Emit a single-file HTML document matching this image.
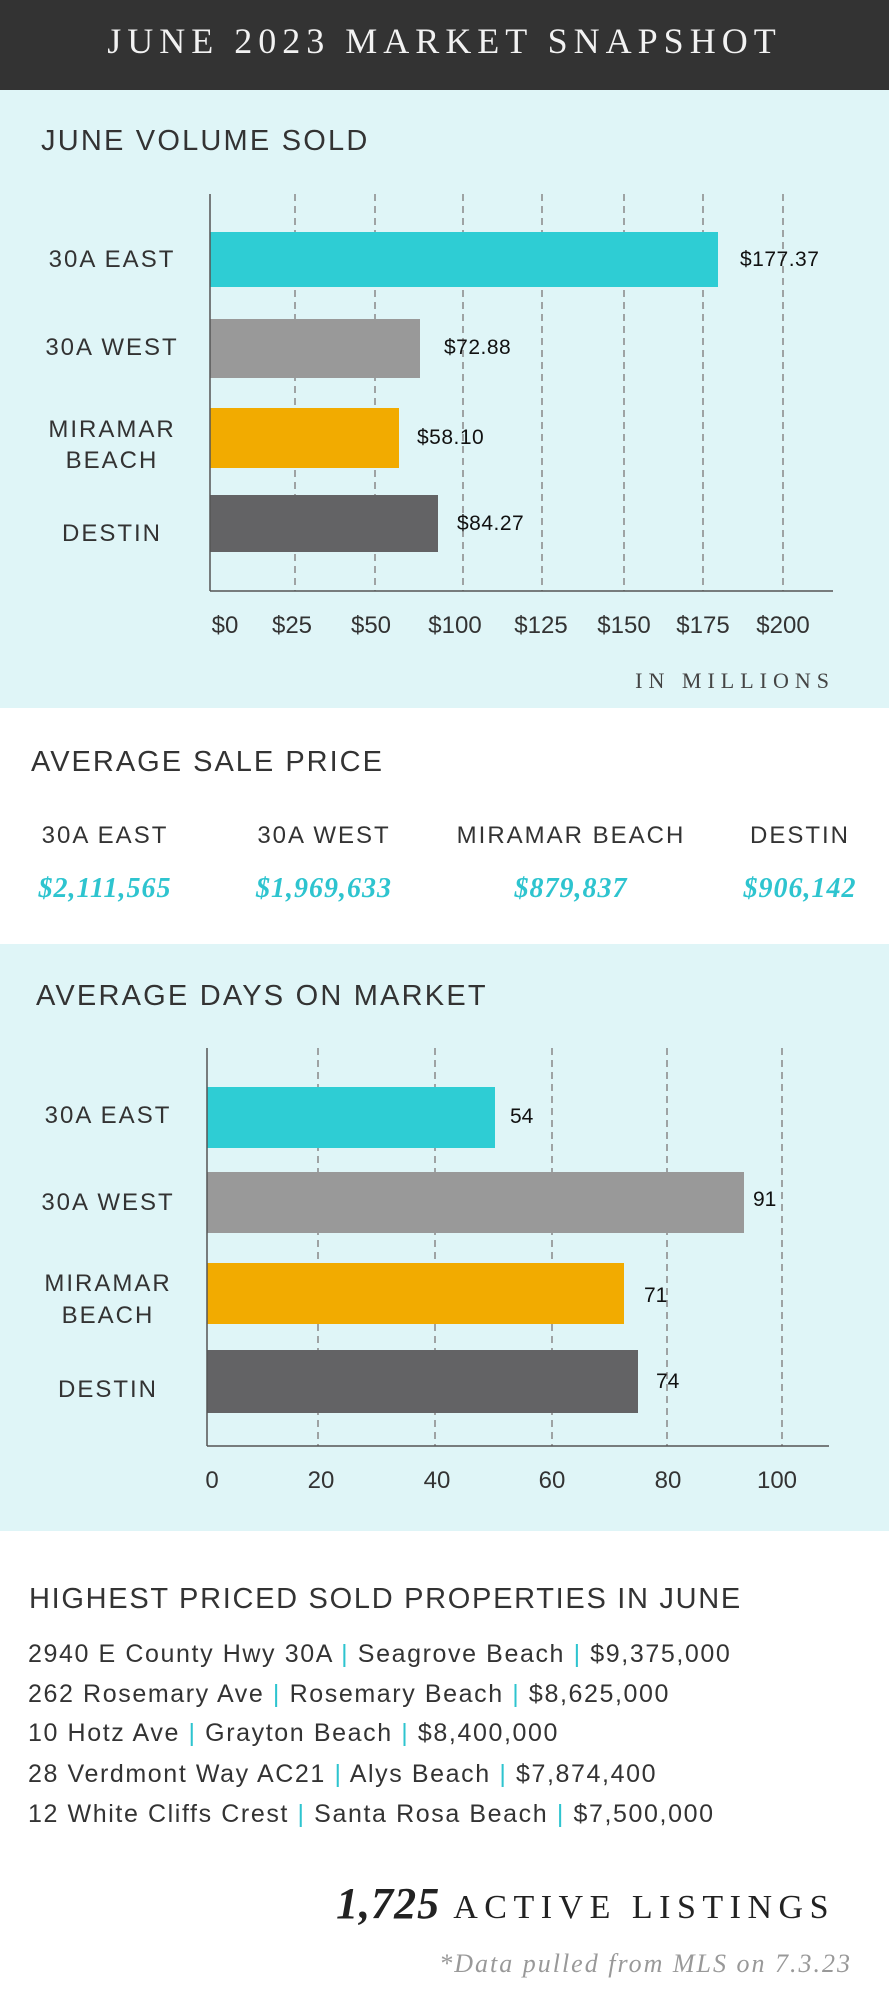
<!DOCTYPE html>
<html><head><meta charset="utf-8"><style>
html,body{margin:0;padding:0;background:#fff}
svg{display:block}
.s{font-family:"Liberation Sans",sans-serif;fill:#333}
.r{font-family:"Liberation Serif",serif}
</style></head><body>
<svg width="889" height="2000" viewBox="0 0 889 2000" xmlns="http://www.w3.org/2000/svg">
<rect x="0" y="0" width="889" height="90" fill="#333333"/>
<text x="444.5" y="53" text-anchor="middle" class="r" font-size="36" fill="#f2f2f2" letter-spacing="6">JUNE 2023 MARKET SNAPSHOT</text>
<rect x="0" y="90" width="889" height="618" fill="#dff5f7"/>
<rect x="0" y="944" width="889" height="587" fill="#dff5f7"/>

<!-- Chart 1 -->
<text x="41" y="150" class="s" font-size="29" letter-spacing="2.2">JUNE VOLUME SOLD</text>
<g stroke="#888" stroke-width="1.5" stroke-dasharray="7,5">
<line x1="295" y1="194" x2="295" y2="591"/><line x1="375" y1="194" x2="375" y2="591"/>
<line x1="463" y1="194" x2="463" y2="591"/><line x1="542" y1="194" x2="542" y2="591"/>
<line x1="624" y1="194" x2="624" y2="591"/><line x1="703" y1="194" x2="703" y2="591"/>
<line x1="783" y1="194" x2="783" y2="591"/>
</g>
<rect x="210" y="232" width="508" height="55" fill="#2ecdd4"/>
<rect x="210" y="319" width="210" height="59" fill="#999999"/>
<rect x="210" y="408" width="189" height="60" fill="#f2ab00"/>
<rect x="210" y="495" width="228" height="57" fill="#636365"/>
<line x1="210" y1="194" x2="210" y2="591" stroke="#555" stroke-width="1.5"/>
<line x1="210" y1="591" x2="833" y2="591" stroke="#555" stroke-width="1.5"/>
<g class="s" font-size="21" style="fill:#111" letter-spacing="0.5">
<text x="740" y="266">$177.37</text><text x="444" y="354">$72.88</text>
<text x="417" y="444">$58.10</text><text x="457" y="530">$84.27</text>
</g>
<g class="s" font-size="24" text-anchor="middle" letter-spacing="2">
<text x="112" y="267">30A EAST</text><text x="112" y="355">30A WEST</text>
<text x="112" y="437">MIRAMAR</text><text x="112" y="468">BEACH</text>
<text x="112" y="541">DESTIN</text>
</g>
<g class="s" font-size="24" text-anchor="middle">
<text x="225" y="633">$0</text><text x="292" y="633">$25</text><text x="371" y="633">$50</text>
<text x="455" y="633">$100</text><text x="541" y="633">$125</text><text x="624" y="633">$150</text>
<text x="703" y="633">$175</text><text x="783" y="633">$200</text>
</g>
<text x="835" y="688" text-anchor="end" class="r" font-size="22" fill="#444" letter-spacing="6">IN MILLIONS</text>

<!-- Avg sale price -->
<text x="31" y="771" class="s" font-size="29" letter-spacing="2">AVERAGE SALE PRICE</text>
<g class="s" font-size="24" text-anchor="middle" letter-spacing="2">
<text x="105" y="843">30A EAST</text><text x="324" y="843">30A WEST</text>
<text x="571" y="843">MIRAMAR BEACH</text><text x="800" y="843">DESTIN</text>
</g>
<g class="r" font-size="28" text-anchor="middle" font-style="italic" font-weight="bold" fill="#2ec4cf" letter-spacing="1">
<text x="105" y="897">$2,111,565</text><text x="324" y="897">$1,969,633</text>
<text x="571" y="897">$879,837</text><text x="800" y="897">$906,142</text>
</g>

<!-- Chart 2 -->
<text x="36" y="1005" class="s" font-size="29" letter-spacing="2.2">AVERAGE DAYS ON MARKET</text>
<g stroke="#888" stroke-width="1.5" stroke-dasharray="7,5">
<line x1="318" y1="1048" x2="318" y2="1446"/><line x1="435" y1="1048" x2="435" y2="1446"/>
<line x1="552" y1="1048" x2="552" y2="1446"/><line x1="667" y1="1048" x2="667" y2="1446"/>
<line x1="782" y1="1048" x2="782" y2="1446"/>
</g>
<rect x="207" y="1087" width="288" height="61" fill="#2ecdd4"/>
<rect x="207" y="1172" width="537" height="61" fill="#999999"/>
<rect x="207" y="1263" width="417" height="61" fill="#f2ab00"/>
<rect x="207" y="1350" width="431" height="63" fill="#636365"/>
<line x1="207" y1="1048" x2="207" y2="1446" stroke="#555" stroke-width="1.5"/>
<line x1="207" y1="1446" x2="829" y2="1446" stroke="#555" stroke-width="1.5"/>
<g class="s" font-size="21" style="fill:#111">
<text x="510" y="1123">54</text><text x="753" y="1206">91</text>
<text x="644" y="1302">71</text><text x="656" y="1388">74</text>
</g>
<g class="s" font-size="24" text-anchor="middle" letter-spacing="2">
<text x="108" y="1123">30A EAST</text><text x="108" y="1210">30A WEST</text>
<text x="108" y="1291">MIRAMAR</text><text x="108" y="1323">BEACH</text>
<text x="108" y="1397">DESTIN</text>
</g>
<g class="s" font-size="24" text-anchor="middle">
<text x="212" y="1488">0</text><text x="321" y="1488">20</text><text x="437" y="1488">40</text>
<text x="552" y="1488">60</text><text x="668" y="1488">80</text><text x="777" y="1488">100</text>
</g>

<!-- Highest priced -->
<text x="29" y="1608" class="s" font-size="29" letter-spacing="1.7">HIGHEST PRICED SOLD PROPERTIES IN JUNE</text>
<g class="s" font-size="25" letter-spacing="1.6">
<text x="28" y="1662">2940 E County Hwy 30A <tspan fill="#2ec4cf">|</tspan> Seagrove Beach  <tspan fill="#2ec4cf">|</tspan> $9,375,000</text>
<text x="28" y="1702">262 Rosemary Ave <tspan fill="#2ec4cf">|</tspan> Rosemary Beach <tspan fill="#2ec4cf">|</tspan> $8,625,000</text>
<text x="28" y="1741">10 Hotz Ave <tspan fill="#2ec4cf">|</tspan> Grayton Beach <tspan fill="#2ec4cf">|</tspan> $8,400,000</text>
<text x="28" y="1782">28 Verdmont Way AC21 <tspan fill="#2ec4cf">|</tspan> Alys Beach <tspan fill="#2ec4cf">|</tspan> $7,874,400</text>
<text x="28" y="1822">12 White Cliffs Crest <tspan fill="#2ec4cf">|</tspan> Santa Rosa Beach <tspan fill="#2ec4cf">|</tspan> $7,500,000</text>
</g>
<text x="835" y="1918" text-anchor="end" class="r" font-size="34" fill="#222" letter-spacing="6.5"><tspan font-size="44" font-weight="bold" font-style="italic" letter-spacing="1">1,725</tspan> ACTIVE LISTINGS</text>
<text x="852" y="1972" text-anchor="end" class="r" font-size="26" font-style="italic" fill="#999" letter-spacing="2">*Data pulled from MLS on 7.3.23</text>
</svg>
</body></html>
